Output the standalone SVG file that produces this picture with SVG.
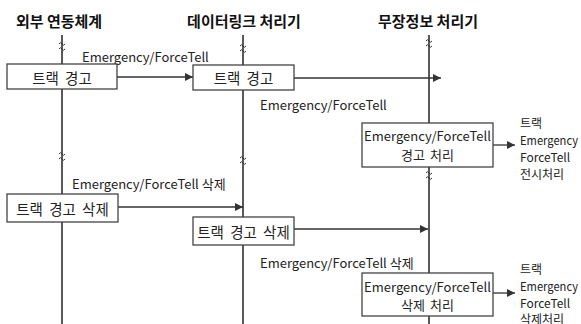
<svg xmlns="http://www.w3.org/2000/svg" width="581" height="324" viewBox="0 0 581 324">
<defs>
<style>
.hdr{font-family:"Noto Sans CJK KR","Noto Sans",sans-serif;font-size:15px;font-weight:bold;fill:#111}
.t{font-family:"Noto Sans CJK KR","Noto Sans",sans-serif;font-size:13px;fill:#222}
.r{font-family:"Noto Sans CJK KR","Noto Sans",sans-serif;font-size:12px;fill:#222}
.bt{font-family:"Noto Sans CJK KR","Noto Sans",sans-serif;font-size:14.5px;fill:#222;word-spacing:3px}
.life{stroke:#222;stroke-width:1.5;fill:none}
.box{fill:#fff;stroke:#444;stroke-width:1.3}
.msg{stroke:#333;stroke-width:1.3;fill:none;marker-end:url(#ah)}
.brk{stroke:#333;stroke-width:1;fill:none}
</style>
<marker id="ah" viewBox="0 0 10 10" refX="10" refY="5" markerWidth="8" markerHeight="8" markerUnits="userSpaceOnUse" orient="auto">
<path d="M0,0 L10,5 L0,10 z" fill="#333"/>
</marker>
<g id="brkmark"><path class="brk" d="M-3,-2 q1.5,-2.5 3,0 t3,0 M-3,3 q1.5,-2.5 3,0 t3,0"/></g>
</defs>
<rect width="581" height="324" fill="#fff"/>
<g id="headers">
<text class="hdr" x="59" y="27" text-anchor="middle">외부 연동체계</text>
<text class="hdr" x="244" y="27" text-anchor="middle">데이터링크 처리기</text>
<text class="hdr" x="428" y="27" text-anchor="middle">무장정보 처리기</text>
</g>
<g id="lifelines">
<line class="life" x1="62" y1="35" x2="62" y2="324"/>
<line class="life" x1="243" y1="35" x2="243" y2="324"/>
<line class="life" x1="429" y1="35" x2="429" y2="324"/>
<use href="#brkmark" x="62" y="46"/>
<use href="#brkmark" x="243" y="48"/>
<use href="#brkmark" x="429" y="43"/>
<use href="#brkmark" x="62" y="156"/>
<use href="#brkmark" x="243" y="160"/>
<use href="#brkmark" x="429" y="175"/>
</g>
<g id="connectors">
<line class="msg" x1="117" y1="77" x2="193" y2="77"/>
<line class="msg" x1="294" y1="78" x2="441" y2="78"/>
<line class="msg" x1="493" y1="145" x2="515" y2="145"/>
<line class="msg" x1="118" y1="207" x2="243" y2="207"/>
<line class="msg" x1="294" y1="229" x2="428" y2="229"/>
<line class="msg" x1="493" y1="293" x2="515" y2="293"/>
</g>
<g id="labels">
<text class="t" x="82" y="56" dominant-baseline="central">Emergency/ForceTell</text>
<text class="t" x="260" y="104" dominant-baseline="central">Emergency/ForceTell</text>
<text class="t" x="72" y="183" dominant-baseline="central">Emergency/ForceTell 삭제</text>
<text class="t" x="260" y="262" dominant-baseline="central">Emergency/ForceTell 삭제</text>
</g>
<g id="n1"><rect class="box" x="7" y="64" width="110" height="25"/><text class="bt" x="62" y="77" text-anchor="middle" dominant-baseline="central">트랙 경고</text></g>
<g id="n2"><rect class="box" x="193" y="65" width="101" height="25"/><text class="bt" x="243.5" y="77.5" text-anchor="middle" dominant-baseline="central">트랙 경고</text></g>
<g id="n3"><rect class="box" x="362" y="123" width="131" height="44"/><text class="t" x="427.5" y="135" text-anchor="middle" dominant-baseline="central">Emergency/ForceTell</text><text class="t" x="427.5" y="154" text-anchor="middle" dominant-baseline="central" style="word-spacing:2px">경고 처리</text></g>
<g id="n3out"><text class="r" x="520" y="122" dominant-baseline="central">트랙</text><text class="r" x="520" y="139" dominant-baseline="central" textLength="58" lengthAdjust="spacingAndGlyphs">Emergency</text><text class="r" x="520" y="156" dominant-baseline="central">ForceTell</text><text class="r" x="520" y="173" dominant-baseline="central">전시처리</text></g>
<g id="n4"><rect class="box" x="7" y="194" width="111" height="28"/><text class="bt" x="62.5" y="208" text-anchor="middle" dominant-baseline="central">트랙 경고 삭제</text></g>
<g id="n5"><rect class="box" x="193" y="217" width="101" height="28"/><text class="bt" x="243.5" y="231" text-anchor="middle" dominant-baseline="central">트랙 경고 삭제</text></g>
<g id="n6"><rect class="box" x="362" y="273" width="131" height="43"/><text class="t" x="427.5" y="286" text-anchor="middle" dominant-baseline="central">Emergency/ForceTell</text><text class="t" x="427.5" y="304" text-anchor="middle" dominant-baseline="central" style="word-spacing:2px">삭제 처리</text></g>
<g id="n6out"><text class="r" x="520" y="268" dominant-baseline="central">트랙</text><text class="r" x="520" y="285" dominant-baseline="central" textLength="58" lengthAdjust="spacingAndGlyphs">Emergency</text><text class="r" x="520" y="302" dominant-baseline="central">ForceTell</text><text class="r" x="520" y="318" dominant-baseline="central">삭제처리</text></g>
</svg>
